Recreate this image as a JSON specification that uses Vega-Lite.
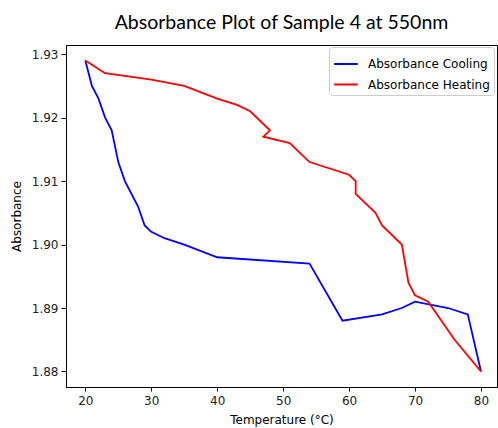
{
  "$schema": "https://vega.github.io/schema/vega-lite/v6.json",
  "autosize": {"type": "none"},
  "padding": {"left": 66, "top": 45, "right": 1, "bottom": 41},
  "width": 431,
  "height": 342,
  "title": {"text": "Absorbance Plot of Sample 4 at 550nm", "font": "Lato", "fontSize": 19.5, "fontWeight": "normal", "color": "#000000", "offset": 12, "anchor": "middle"},
  "config": {
    "view": {"stroke": "#000000", "strokeWidth": 1},
    "axis": {"grid": false, "domainColor": "#000000", "tickColor": "#000000", "tickSize": 5, "labelFont": "DejaVu Sans", "labelFontSize": 12, "labelColor": "#222222", "titleFont": "DejaVu Sans", "titleFontSize": 12, "titleFontWeight": "normal", "titleColor": "#000000", "labelPadding": 3}
  },
  "data": {"values": [
    {"series": "Absorbance Cooling", "step": 1, "temp": 20, "abs": 1.929},
    {"series": "Absorbance Cooling", "step": 2, "temp": 21, "abs": 1.925},
    {"series": "Absorbance Cooling", "step": 3, "temp": 22, "abs": 1.923},
    {"series": "Absorbance Cooling", "step": 4, "temp": 23, "abs": 1.920},
    {"series": "Absorbance Cooling", "step": 5, "temp": 24, "abs": 1.918},
    {"series": "Absorbance Cooling", "step": 6, "temp": 25, "abs": 1.913},
    {"series": "Absorbance Cooling", "step": 7, "temp": 26, "abs": 1.910},
    {"series": "Absorbance Cooling", "step": 8, "temp": 28, "abs": 1.906},
    {"series": "Absorbance Cooling", "step": 9, "temp": 29, "abs": 1.903},
    {"series": "Absorbance Cooling", "step": 10, "temp": 30, "abs": 1.902},
    {"series": "Absorbance Cooling", "step": 11, "temp": 32, "abs": 1.901},
    {"series": "Absorbance Cooling", "step": 12, "temp": 35, "abs": 1.900},
    {"series": "Absorbance Cooling", "step": 13, "temp": 40, "abs": 1.898},
    {"series": "Absorbance Cooling", "step": 14, "temp": 54, "abs": 1.897},
    {"series": "Absorbance Cooling", "step": 15, "temp": 59, "abs": 1.888},
    {"series": "Absorbance Cooling", "step": 16, "temp": 65, "abs": 1.889},
    {"series": "Absorbance Cooling", "step": 17, "temp": 68, "abs": 1.890},
    {"series": "Absorbance Cooling", "step": 18, "temp": 70, "abs": 1.891},
    {"series": "Absorbance Cooling", "step": 19, "temp": 75, "abs": 1.890},
    {"series": "Absorbance Cooling", "step": 20, "temp": 78, "abs": 1.889},
    {"series": "Absorbance Cooling", "step": 21, "temp": 80, "abs": 1.880},
    {"series": "Absorbance Heating", "step": 1, "temp": 20, "abs": 1.929},
    {"series": "Absorbance Heating", "step": 2, "temp": 23, "abs": 1.927},
    {"series": "Absorbance Heating", "step": 3, "temp": 30, "abs": 1.926},
    {"series": "Absorbance Heating", "step": 4, "temp": 35, "abs": 1.925},
    {"series": "Absorbance Heating", "step": 5, "temp": 40, "abs": 1.923},
    {"series": "Absorbance Heating", "step": 6, "temp": 43, "abs": 1.922},
    {"series": "Absorbance Heating", "step": 7, "temp": 45, "abs": 1.921},
    {"series": "Absorbance Heating", "step": 8, "temp": 48, "abs": 1.918},
    {"series": "Absorbance Heating", "step": 9, "temp": 47, "abs": 1.917},
    {"series": "Absorbance Heating", "step": 10, "temp": 51, "abs": 1.916},
    {"series": "Absorbance Heating", "step": 11, "temp": 54, "abs": 1.913},
    {"series": "Absorbance Heating", "step": 12, "temp": 60, "abs": 1.911},
    {"series": "Absorbance Heating", "step": 13, "temp": 61, "abs": 1.910},
    {"series": "Absorbance Heating", "step": 14, "temp": 61, "abs": 1.908},
    {"series": "Absorbance Heating", "step": 15, "temp": 64, "abs": 1.905},
    {"series": "Absorbance Heating", "step": 16, "temp": 65, "abs": 1.903},
    {"series": "Absorbance Heating", "step": 17, "temp": 68, "abs": 1.900},
    {"series": "Absorbance Heating", "step": 18, "temp": 69, "abs": 1.894},
    {"series": "Absorbance Heating", "step": 19, "temp": 70, "abs": 1.892},
    {"series": "Absorbance Heating", "step": 20, "temp": 72, "abs": 1.891},
    {"series": "Absorbance Heating", "step": 21, "temp": 76, "abs": 1.885},
    {"series": "Absorbance Heating", "step": 22, "temp": 80, "abs": 1.880}
  ]},
  "mark": {"type": "line", "strokeWidth": 1.8, "clip": true},
  "encoding": {
    "x": {"field": "temp", "type": "quantitative", "title": "Temperature (°C)",
      "scale": {"domain": [17.07, 82.43], "nice": false, "zero": false},
      "axis": {"values": [20, 30, 40, 50, 60, 70, 80], "titlePadding": 8, "labelPadding": 4, "tickSize": 4}},
    "y": {"field": "abs", "type": "quantitative", "title": "Absorbance",
      "scale": {"domain": [1.87755, 1.93145], "nice": false, "zero": false},
      "axis": {"values": [1.88, 1.89, 1.90, 1.91, 1.92, 1.93], "format": ".2f", "titlePadding": 8}},
    "order": {"field": "step", "type": "quantitative"},
    "color": {"field": "series", "type": "nominal",
      "scale": {"domain": ["Absorbance Cooling", "Absorbance Heating"], "range": ["#0000ff", "#ff0000"]},
      "legend": {"title": null, "orient": "none", "legendX": 263, "legendY": 2,
        "symbolType": "stroke", "symbolSize": 560, "symbolStrokeWidth": 2,
        "labelFont": "DejaVu Sans", "labelFontSize": 12, "labelColor": "#000000", "labelOffset": 9,
        "rowPadding": 1.5, "padding": 4, "strokeColor": "#cccccc", "fillColor": "#ffffff", "cornerRadius": 3}}
  }
}
